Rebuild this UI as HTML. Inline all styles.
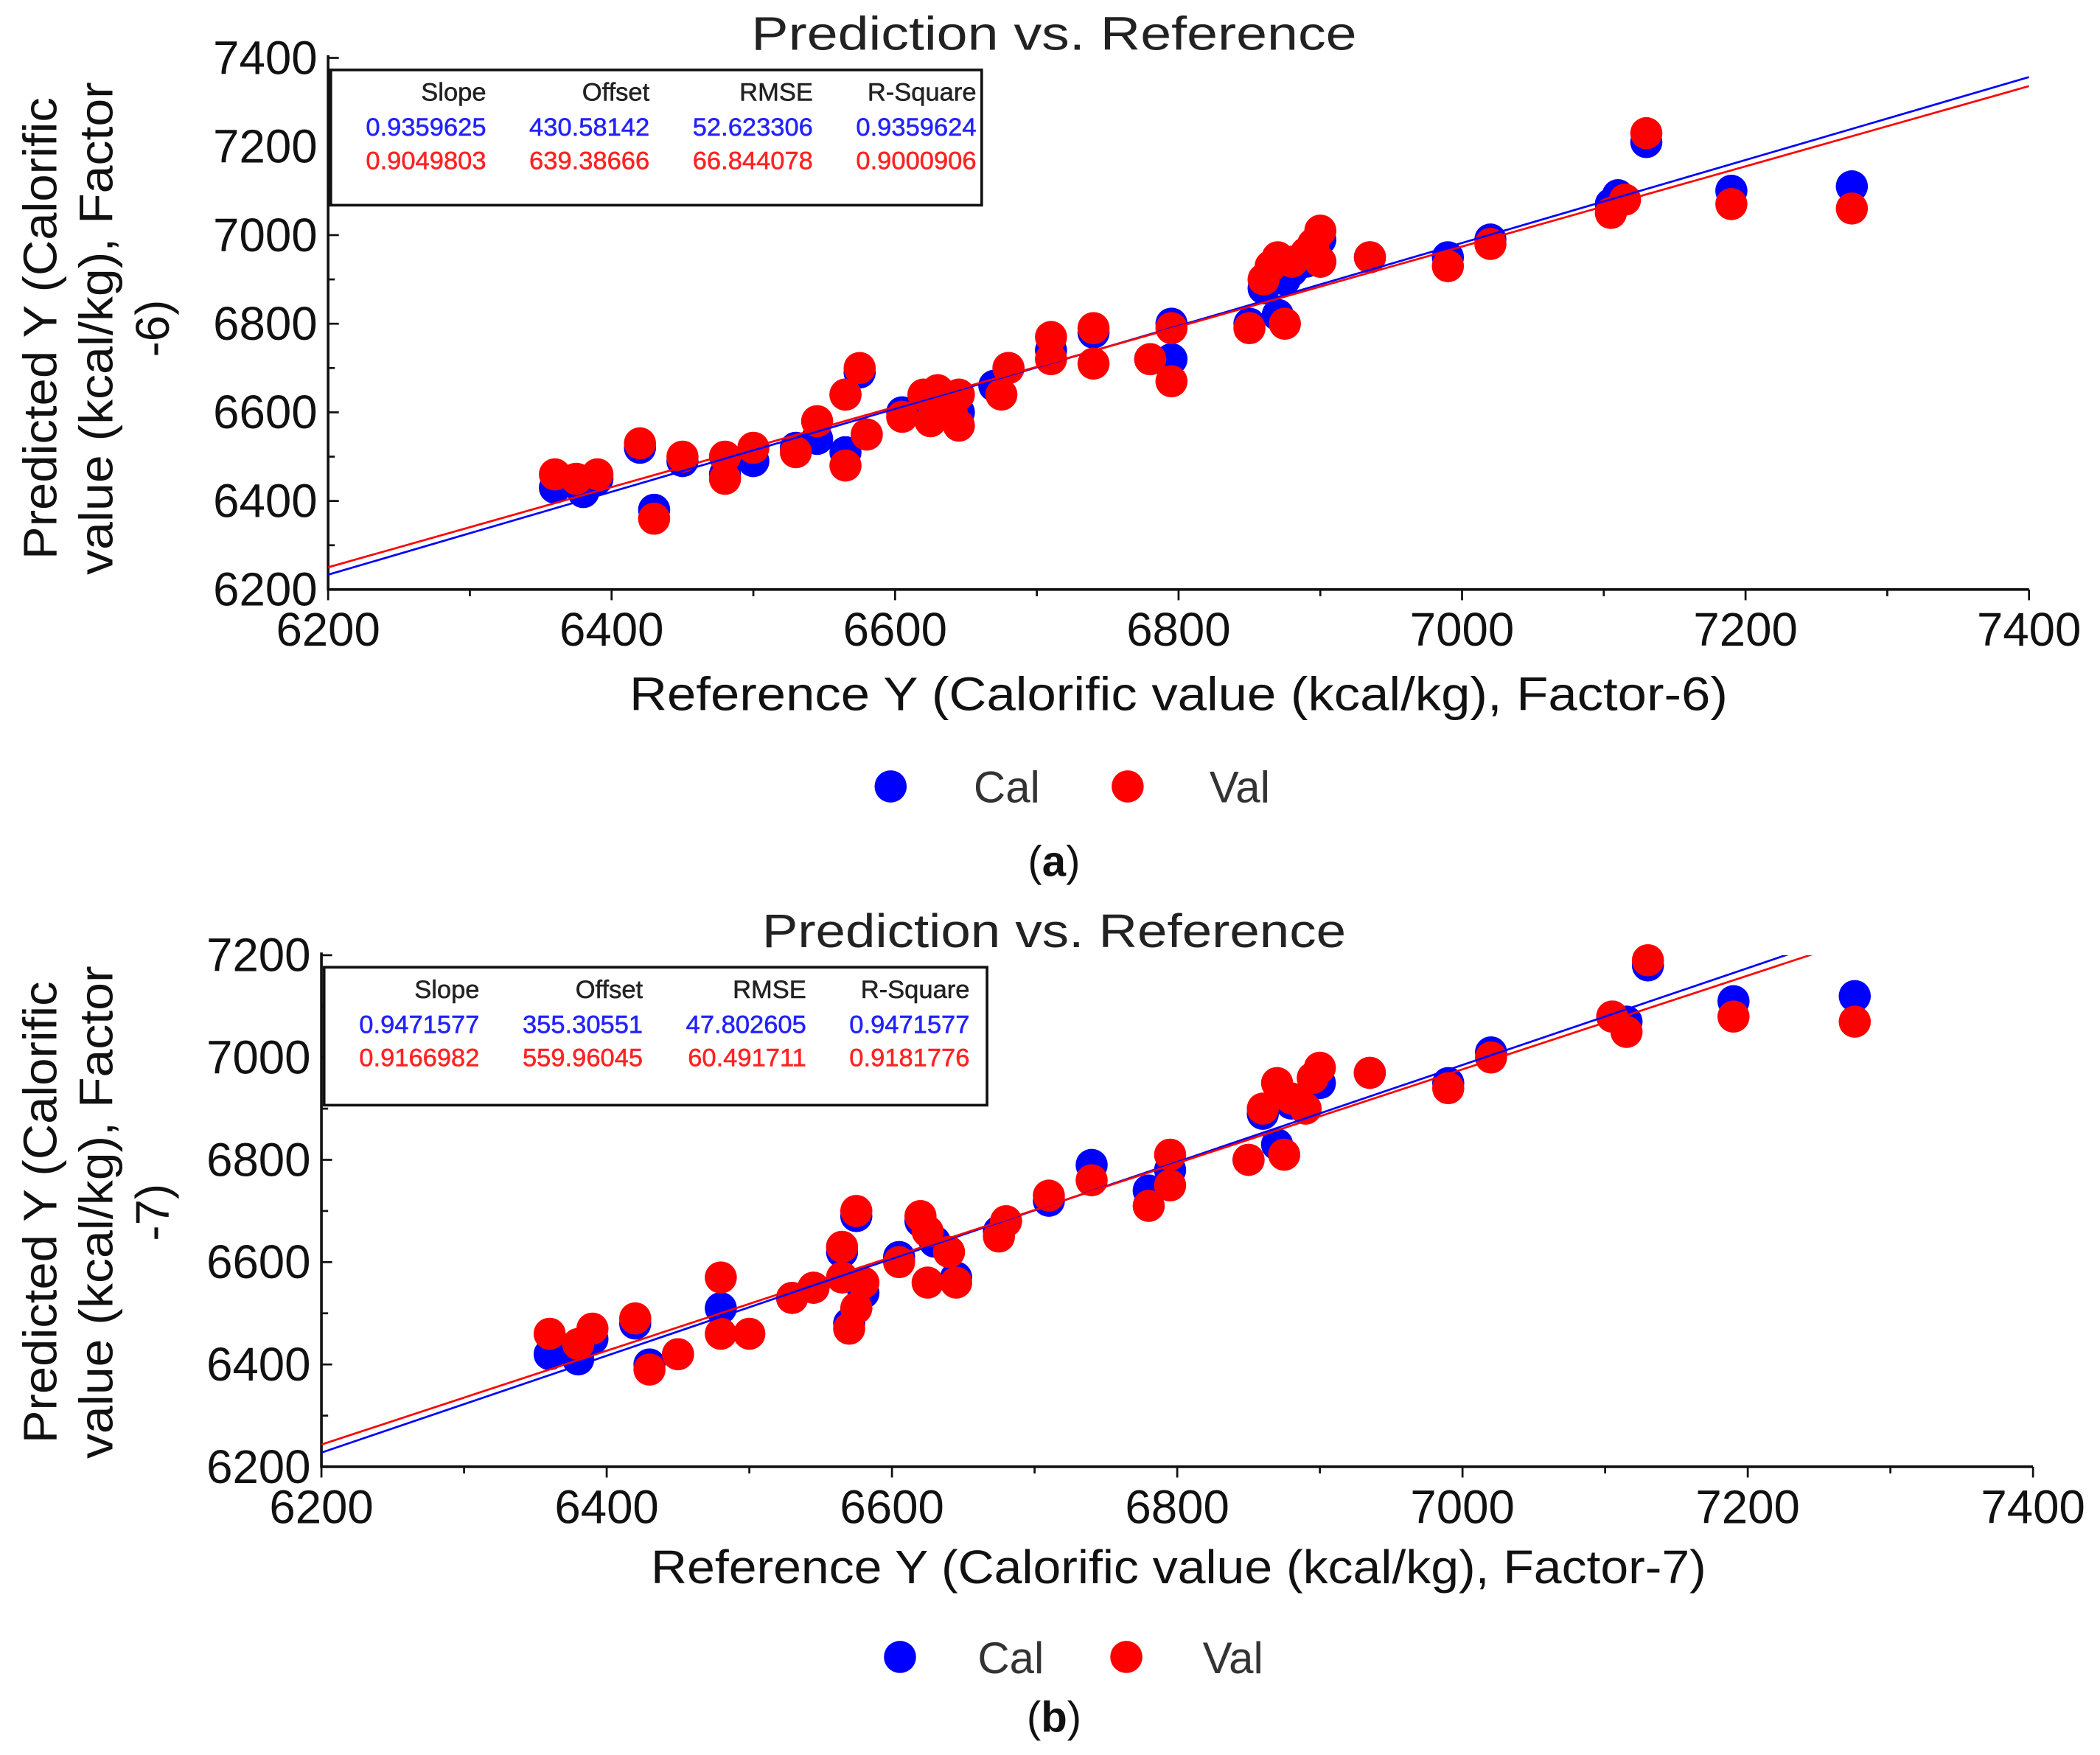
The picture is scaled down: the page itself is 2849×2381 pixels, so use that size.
<!DOCTYPE html>
<html><head><meta charset="utf-8"><style>
html,body{margin:0;padding:0;background:#fff}
svg{display:block}
text{font-family:"Liberation Sans",sans-serif}
</style></head><body>
<svg id="fig" xmlns="http://www.w3.org/2000/svg" width="2849" height="2381" viewBox="0 0 1568 1310">
<rect width="1568" height="1310" fill="#fff"/>
</svg>
<script>
const xTicksA = [6200,6400,6600,6800,7000,7200,7400];
const yTicksA = [6200,6400,6600,6800,7000,7200,7400];
const yTicksB = [6200,6400,6600,6800,7000,7200];
const calA = [[6360,6430],[6380,6420],[6390,6450],[6420,6520],[6430,6380],[6450,6490],[6480,6460],[6500,6490],[6530,6520],[6545,6540],[6565,6510],[6565,6640],[6575,6690],[6580,6550],[6605,6600],[6620,6620],[6630,6610],[6640,6630],[6645,6600],[6670,6660],[6680,6700],[6710,6740],[6740,6780],[6780,6720],[6795,6800],[6795,6720],[6850,6800],[6860,6880],[6870,6820],[6875,6900],[6880,6920],[6890,6940],[6900,6990],[6900,6940],[6935,6950],[6990,6950],[7020,6990],[7110,7090],[7105,7070],[7130,7210],[7190,7100],[7275,7110]];
const valA = [[6360,6460],[6375,6450],[6390,6460],[6420,6530],[6430,6360],[6450,6500],[6480,6450],[6480,6500],[6500,6520],[6530,6510],[6545,6580],[6565,6480],[6565,6640],[6575,6700],[6580,6550],[6605,6590],[6620,6640],[6625,6580],[6630,6650],[6640,6600],[6645,6640],[6645,6570],[6675,6640],[6680,6700],[6710,6770],[6710,6720],[6740,6790],[6740,6710],[6780,6720],[6795,6790],[6795,6670],[6850,6790],[6860,6900],[6865,6930],[6870,6950],[6875,6800],[6880,6940],[6890,6960],[6895,6980],[6900,7010],[6900,6940],[6935,6950],[6990,6930],[7020,6980],[7105,7050],[7115,7080],[7130,7230],[7190,7070],[7275,7060]];
const calB = [[6360,6420],[6380,6410],[6390,6450],[6420,6480],[6430,6400],[6450,6420],[6480,6510],[6530,6530],[6545,6550],[6565,6620],[6570,6480],[6575,6690],[6580,6540],[6605,6610],[6620,6680],[6630,6640],[6645,6570],[6675,6660],[6710,6720],[6740,6790],[6780,6740],[6795,6780],[6850,6800],[6860,6890],[6870,6830],[6880,6910],[6900,6950],[6935,6970],[6990,6950],[7020,7010],[7105,7080],[7115,7070],[7130,7180],[7190,7110],[7275,7120]];
const valB = [[6360,6460],[6380,6440],[6390,6470],[6420,6490],[6430,6390],[6450,6420],[6480,6570],[6480,6460],[6500,6460],[6530,6530],[6545,6550],[6565,6630],[6565,6570],[6570,6470],[6575,6700],[6575,6510],[6580,6560],[6605,6600],[6620,6690],[6625,6660],[6625,6560],[6640,6620],[6645,6560],[6675,6650],[6680,6680],[6710,6730],[6740,6760],[6780,6710],[6795,6810],[6795,6750],[6850,6800],[6860,6900],[6870,6950],[6875,6810],[6880,6920],[6890,6900],[6895,6960],[6900,6980],[6935,6970],[6990,6940],[7020,7000],[7105,7080],[7115,7050],[7130,7190],[7190,7080],[7275,7070]];
const statsA = [["0.9359625","430.58142","52.623306","0.9359624"],["0.9049803","639.38666","66.844078","0.9000906"]];
const statsB = [["0.9471577","355.30551","47.802605","0.9471577"],["0.9166982","559.96045","60.491711","0.9181776"]];
const fitA = [[0.9359625,430.58142],[0.9049803,639.38666]];
const fitB = [[0.9471577,355.30551],[0.9166982,559.96045]];

const NS="http://www.w3.org/2000/svg";
const svg=document.getElementById('fig');
function mk(tag,attrs,parent,txt){const e=document.createElementNS(NS,tag);for(const k in attrs)e.setAttribute(k,attrs[k]);if(txt!==undefined)e.textContent=txt;(parent||svg).appendChild(e);return e;}

function chart(o){
  const g=mk('g',{});
  
  
  const X=v=>o.x0+(v-6200)/(7400-6200)*(o.x1-o.x0);
  const Y=v=>o.y1-(v-6200)/(o.ymax-6200)*(o.y1-o.y0);
  const t=mk('text',{x:787,y:o.titleY,'text-anchor':'middle','font-size':35,fill:'#222',textLength:o.titleW,lengthAdjust:'spacingAndGlyphs'},g,'Prediction vs. Reference');
  
  const cid='clip'+o.name;
  const cp=mk('clipPath',{id:cid},g);mk('rect',{x:o.x0,y:o.y0,width:o.x1-o.x0,height:o.y1-o.y0},cp);
  const ax=mk('path',{d:`M${o.x0},${o.y0-2}V${o.y1}H${o.x1}`,stroke:'#111','stroke-width':2,fill:'none'},g);
  
  for(let v=6200;v<=7400;v+=100){const x=X(v);mk('line',{x1:x,x2:x,y1:o.y1,y2:o.y1+(v%200===0?8:5),stroke:'#111','stroke-width':1.5},g);}
  for(let v=6200;v<=o.ymax;v+=100){const y=Y(v);mk('line',{x1:o.x0,x2:o.x0+(v%200===0?8:5),y1:y,y2:y,stroke:'#111','stroke-width':1.5},g);}
  xTicksA.forEach(v=>{const e=mk('text',{x:X(v),y:o.y1+42,'text-anchor':'middle','font-size':35,fill:'#111'},g,String(v));});
  o.yTicks.forEach(v=>{const e=mk('text',{x:o.x0-8,y:Y(v)+12,'text-anchor':'end','font-size':35,fill:'#111'},g,String(v));});
  const xt=mk('text',{x:880,y:o.xTitleY,'text-anchor':'middle','font-size':35,fill:'#111',textLength:o.xTitleW,lengthAdjust:'spacingAndGlyphs'},g,o.xTitle);
  
  const yt=mk('text',{transform:`translate(0,${o.yTitleC}) rotate(-90)`,'text-anchor':'middle','font-size':35,fill:'#111'},g);
  
  mk('tspan',{x:0,y:42,textLength:345,lengthAdjust:'spacingAndGlyphs'},yt,'Predicted Y (Calorific');
  mk('tspan',{x:0,y:84,textLength:368,lengthAdjust:'spacingAndGlyphs'},yt,'value (kcal/kg), Factor');
  mk('tspan',{x:0,y:126},yt,o.yTail);
  const pg=mk('g',{},g);
  const drawPts=(arr,col,nm)=>arr.forEach(p=>{const c=mk('circle',{cx:X(p[0]),cy:Y(p[1]),r:12,fill:col},pg);});
  drawPts(o.cal,'#0000ff','cal-point');
  drawPts(o.val,'#ff0000','val-point');
  const lg=mk('g',{'clip-path':`url(#${cid})`},g);
  [['#0000ff','cal-fit-line'],['#ff0000','val-fit-line']].forEach((c,i)=>{const f=o.fit[i];const l=mk('line',{x1:X(6200),y1:Y(6200*f[0]+f[1]),x2:X(7400),y2:Y(7400*f[0]+f[1]),stroke:c[0],'stroke-width':1.5},lg);});
  const b=o.box;
  const sb=mk('g',{},g);
  mk('rect',{x:b[0],y:b[1],width:b[2],height:b[3],fill:'#fff',stroke:'#111','stroke-width':2},sb);
  const cols=[b[0]+116,b[0]+238,b[0]+360,b[0]+482];
  ['Slope','Offset','RMSE','R-Square'].forEach((h,i)=>mk('text',{x:cols[i],y:b[1]+23,'text-anchor':'end','font-size':19,fill:'#222',stroke:'#222','stroke-width':0.3},sb,h));
  o.stats[0].forEach((s,i)=>mk('text',{x:cols[i],y:b[1]+49,'text-anchor':'end','font-size':19,fill:'#2222ff',stroke:'#2222ff','stroke-width':0.3},sb,s));
  o.stats[1].forEach((s,i)=>mk('text',{x:cols[i],y:b[1]+74,'text-anchor':'end','font-size':19,fill:'#ff2222',stroke:'#ff2222','stroke-width':0.3},sb,s));
  const lgd=mk('g',{},g);
  mk('circle',{cx:o.leg[0],cy:o.legY,r:12,fill:'#0000ff'},lgd);
  mk('text',{x:o.leg[1],y:o.legY+12,'font-size':33,fill:'#333'},lgd,'Cal');
  mk('circle',{cx:o.leg[2],cy:o.legY,r:12,fill:'#ff0000'},lgd);
  mk('text',{x:o.leg[3],y:o.legY+12,'font-size':33,fill:'#333'},lgd,'Val');
  const cap=mk('text',{x:787,y:o.capY,'text-anchor':'middle','font-size':32,'font-family':'Liberation Serif,serif',fill:'#111'},g);
  
  mk('tspan',{},cap,'(');mk('tspan',{'font-weight':'bold'},cap,o.cap);mk('tspan',{},cap,')');
}
chart({name:'chart-a',x0:245,x1:1515,y0:43,y1:440,ymax:7400,yTicks:yTicksA,cal:calA,val:valA,fit:fitA,stats:statsA,
  box:[247,52,486,101],titleY:37,titleW:452,xTitleY:530,xTitleW:820,xTitle:'Reference Y (Calorific value (kcal/kg), Factor-6)',yTitleC:245,yTail:'-6)',
  leg:[665,727,842,903],legY:587,capY:654,cap:'a'});
chart({name:'chart-b',x0:240,x1:1518,y0:713,y1:1095,ymax:7200,yTicks:yTicksB,cal:calB,val:valB,fit:fitB,stats:statsB,
  box:[242,722,495,103],titleY:707,titleW:436,xTitleY:1182,xTitleW:788,xTitle:'Reference Y (Calorific value (kcal/kg), Factor-7)',yTitleC:905,yTail:'-7)',
  leg:[672,730,841,898],legY:1237,capY:1293,cap:'b'});
</script>
</body></html>
